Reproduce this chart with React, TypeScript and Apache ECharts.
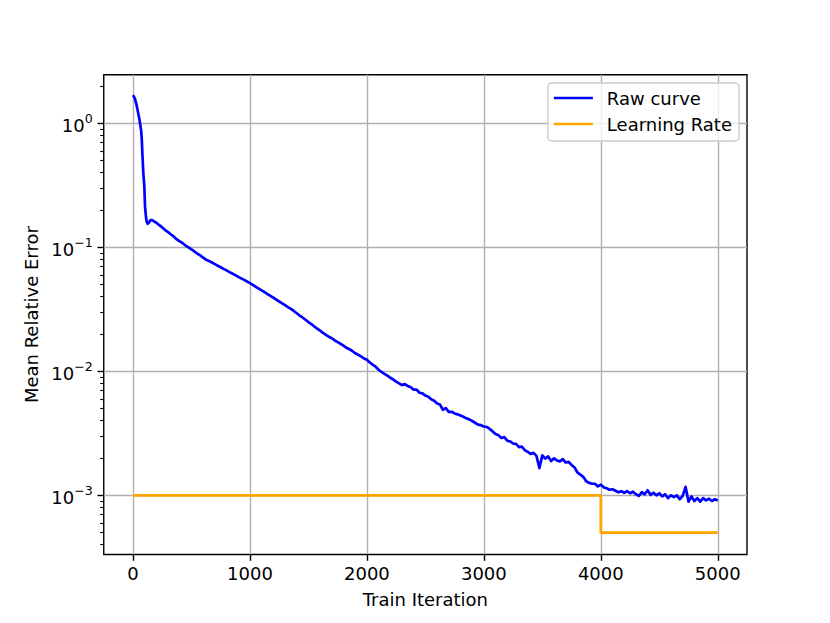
import React, { useEffect, useRef } from "react";
import * as echarts from "echarts";

// Early part of the raw curve (explicit iterations, where it drops fast)
const earlyIters: number[] = [0, 15, 30, 45, 55, 62, 70, 75, 80, 88, 97, 103, 110, 117, 125, 135, 150, 165, 180];
const earlyValues: number[] = [1.69, 1.6, 1.42, 1.2, 1.08, 0.98, 0.87, 0.75, 0.58, 0.4, 0.31, 0.213, 0.18, 0.161, 0.155, 0.158, 0.166, 0.166, 0.162];

// Rest of the raw curve, sampled every ITER_STEP iterations from RAW_START to 5000
const RAW_START = 200;
const ITER_STEP = 25;
const rawCurve: number[] = [
  0.158, 0.151,
  0.145, 0.138, 0.133, 0.127, 0.122, 0.116, 0.112, 0.108, 0.1035, 0.1,
  0.0962, 0.0927, 0.0891, 0.0861, 0.0828, 0.0796, 0.0776, 0.0755, 0.0733, 0.0711,
  0.0692, 0.0671, 0.0652, 0.0632, 0.0615, 0.0597, 0.0579, 0.0562, 0.0547, 0.0531,
  0.0515, 0.0498, 0.0481, 0.0465, 0.045, 0.0435, 0.042, 0.0406, 0.0393, 0.0379,
  0.0366, 0.0354, 0.0342, 0.033, 0.0319, 0.0307, 0.0294, 0.0282, 0.0272, 0.0261,
  0.025, 0.0241, 0.023, 0.0221, 0.0213, 0.0204, 0.0197, 0.019, 0.0185, 0.0178,
  0.0172, 0.0167, 0.0161, 0.0155, 0.0151, 0.0146, 0.014, 0.0136, 0.0132, 0.0127,
  0.0124, 0.0118, 0.0113, 0.0109, 0.0103, 0.00989, 0.00955, 0.00925, 0.00888, 0.0086,
  0.00826, 0.008, 0.00775, 0.0079, 0.00762, 0.00745, 0.00712, 0.00712, 0.00672, 0.00665,
  0.00638, 0.00625, 0.00595, 0.0058, 0.0055, 0.0054, 0.0049, 0.00505, 0.00472, 0.00472,
  0.00458, 0.0045, 0.0044, 0.0043, 0.00418, 0.0041, 0.00398, 0.00385, 0.00372, 0.00368,
  0.00359, 0.00356, 0.00343, 0.00328, 0.00312, 0.00305, 0.0029, 0.00295, 0.00276, 0.00272,
  0.00262, 0.0026, 0.00245, 0.00247, 0.00232, 0.00224, 0.00216, 0.0022, 0.00208, 0.00166,
  0.0021, 0.00198, 0.00206, 0.00189, 0.00199, 0.00191, 0.00188, 0.00196, 0.00184, 0.00186,
  0.00176, 0.00168, 0.00153, 0.00147, 0.00141, 0.0013, 0.00126, 0.00124, 0.00124, 0.00118,
  0.00122, 0.00116, 0.00114, 0.00111, 0.00112, 0.00109, 0.00106, 0.00108, 0.00105, 0.00108,
  0.00104, 0.00107, 0.00102, 0.00099, 0.00106, 0.00102, 0.0011, 0.00101, 0.00105, 0.001,
  0.00104, 0.00098, 0.00102, 0.00095, 0.001, 0.00097, 0.001, 0.00093, 0.00099, 0.00117,
  0.00089, 0.00098, 0.0009, 0.00095, 0.00089, 0.00095, 0.00091, 0.00094, 0.0009, 0.00093,
  0.00091,
];

const lrIters: number[] = [0, 4000, 4000, 5000];
const lrValues: number[] = [0.001, 0.001, 0.0005, 0.0005];

const xTicks: number[] = [0, 1000, 2000, 3000, 4000, 5000];
const yMajorExponents: number[] = [-3, -2, -1, 0];
const minorMultipliers: number[] = [2, 3, 4, 5, 6, 7, 8, 9];

const X_MIN = -250;
const X_MAX = 5250;
const Y_MIN_VALUE = 3.334e-4;
const Y_MAX_VALUE = 2.466;

const FONT = "DejaVu Sans";

export default function App() {
  const ref = useRef<HTMLDivElement>(null);

  useEffect(() => {
    if (!ref.current) return;
    const chart = echarts.init(ref.current, undefined, { renderer: "svg" });

    const yMin = Math.log10(Y_MIN_VALUE);
    const yMax = Math.log10(Y_MAX_VALUE);
    const minorTicks: number[] = [];
    for (let e = -4; e <= 0; e++) {
      for (const k of minorMultipliers) {
        const v = Math.log10(k) + e;
        if (v > yMin && v < yMax) minorTicks.push(v);
      }
    }

    const rawData = [
      ...earlyIters.map((x, i) => [x, Math.log10(earlyValues[i])]),
      ...rawCurve.map((v, i) => [RAW_START + i * ITER_STEP, Math.log10(v)]),
    ];
    const lrData = lrIters.map((x, i) => [x, Math.log10(lrValues[i])]);

    const supText = (exp: number) => (exp < 0 ? "\u2212" + -exp : String(exp));

    chart.setOption({
      animation: false,
      backgroundColor: "#ffffff",
      textStyle: { fontFamily: FONT },
      grid: {
        left: 103.75,
        right: 83,
        top: 74.8,
        bottom: 68.5,
        show: true,
        borderColor: "#000000",
        borderWidth: 1.4,
        backgroundColor: "transparent",
      },
      legend: {
        orient: "vertical",
        right: 91,
        top: 83,
        padding: [6, 7, 8, 6],
        itemGap: 8,
        itemWidth: 39,
        itemHeight: 2.7,
        icon: "rect",
        backgroundColor: "rgba(255,255,255,0.8)",
        borderColor: "#cccccc",
        borderWidth: 1.4,
        borderRadius: 4,
        textStyle: {
          fontFamily: FONT,
          fontSize: 18,
          color: "#000000",
          lineHeight: 18,
          padding: [0, 0, 0, 9],
        },
        data: ["Raw curve", "Learning Rate"],
      },
      xAxis: {
        type: "value",
        position: "bottom",
        min: X_MIN,
        max: X_MAX,
        name: "Train Iteration",
        nameLocation: "middle",
        nameGap: 35.5,
        nameTextStyle: { fontFamily: FONT, fontSize: 18, color: "#000", lineHeight: 18 },
        axisLine: { show: false, onZero: false },
        axisTick: {
          show: true,
          length: 6.3,
          customValues: xTicks,
          lineStyle: { color: "#000", width: 1.4 },
        },
        axisLabel: {
          customValues: xTicks,
          margin: 10,
          fontFamily: FONT,
          fontSize: 18,
          color: "#000",
          formatter: (v: number) => String(v),
        },
        splitLine: { show: true, lineStyle: { color: "#b0b0b0", width: 1.4 } },
      },
      yAxis: [
        {
          type: "value",
          position: "left",
          min: yMin,
          max: yMax,
          name: "Mean Relative Error",
          nameLocation: "middle",
          nameGap: 61,
          nameTextStyle: { fontFamily: FONT, fontSize: 18, color: "#000", lineHeight: 18 },
          axisLine: { show: false, onZero: false },
          axisTick: {
            show: true,
            length: 6.3,
            customValues: yMajorExponents,
            lineStyle: { color: "#000", width: 1.4 },
          },
          axisLabel: {
            customValues: yMajorExponents,
            margin: 11,
            formatter: (v: number) => `{b|10}{s|${supText(Math.round(v))}}`,
            rich: {
              b: { fontFamily: FONT, fontSize: 18, color: "#000", lineHeight: 22, verticalAlign: "bottom" },
              s: { fontFamily: FONT, fontSize: 12.6, color: "#000", lineHeight: 14, verticalAlign: "top" },
            },
          },
          splitLine: { show: true, lineStyle: { color: "#b0b0b0", width: 1.4 } },
        },
        {
          type: "value",
          position: "left",
          show: true,
          min: yMin,
          max: yMax,
          axisLine: { show: false, onZero: false },
          axisTick: {
            show: true,
            length: 3.6,
            customValues: minorTicks,
            lineStyle: { color: "#000", width: 1.1 },
          },
          axisLabel: { show: false },
          splitLine: { show: false },
        },
      ],
      series: [
        {
          name: "Raw curve",
          type: "line",
          color: "#0000ff",
          data: rawData,
          symbol: "none",
          yAxisIndex: 0,
          lineStyle: { color: "#0000ff", width: 2.7, join: "round" },
          z: 3,
        },
        {
          name: "Learning Rate",
          type: "line",
          color: "#ffa500",
          data: lrData,
          symbol: "none",
          yAxisIndex: 0,
          lineStyle: { color: "#ffa500", width: 2.7 },
          z: 3,
        },
      ],
    });

    return () => chart.dispose();
  }, []);

  return (
    <div
      ref={ref}
      style={{ position: "fixed", left: 0, top: 0, width: 830, height: 623, background: "#fff" }}
    />
  );
}
